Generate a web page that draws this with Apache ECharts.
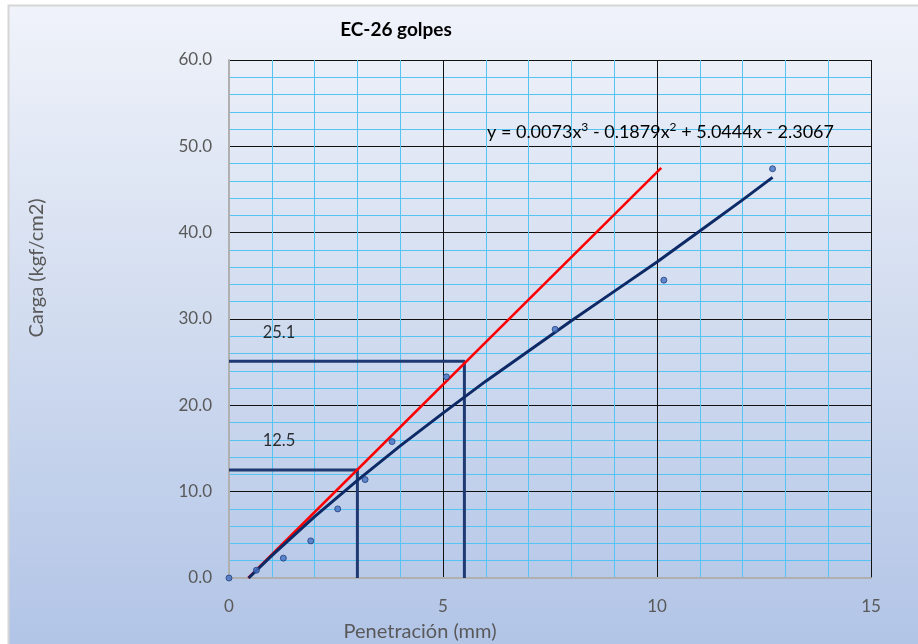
<!DOCTYPE html>
<html>
<head>
<meta charset="utf-8">
<script src="https://cdn.jsdelivr.net/npm/echarts@6/dist/echarts.min.js"></script>
<style>
  html, body { margin: 0; padding: 0; background: #fff; }
  #chart { width: 918px; height: 644px; }
</style>
</head>
<body>
<div id="chart"></div>
<script>
// puntos del ensayo (penetracion mm, carga kgf/cm2)
const penetracion = [0, 0.64, 1.27, 1.91, 2.54, 3.18, 3.81, 5.08, 7.62, 10.16, 12.7];
const carga       = [0.0, 0.9, 2.3, 4.3, 8.0, 11.4, 15.8, 23.3, 28.8, 34.5, 47.4];

// curva de tendencia
const curvaX = [0.46, 1, 2, 3, 4, 5, 6, 7, 8, 9, 10, 11, 12, 12.7];
const curvaY = [0.0, 2.6, 7.1, 11.3, 15.3, 19.1, 22.8, 26.3, 29.8, 33.2, 36.6, 40.2, 43.8, 46.4];

// recta corregida (roja)
const rectaX = [0.45, 10.1];
const rectaY = [0.0, 47.5];

// lecturas corregidas
const lecturaX = [3.0, 5.5];
const lecturaY = [12.5, 25.1];

const ecuacion = "y = 0.0073x{s|3} - 0.1879x{s|2} + 5.0444x - 2.3067";

const FONT = "Lato, 'Open Sans', sans-serif";
const navy = "#0d2a66";

function pairs(xs, ys){ return xs.map((x,i)=>[x, ys[i]]); }

const lecturaSeries = lecturaX.map((x,i)=>({
  type: "line",
  data: [[0, lecturaY[i]], [x, lecturaY[i]], [x, 0]],
  symbol: "none",
  lineStyle: { color: "#1f3a73", width: 3 },
  z: 3,
  silent: true
}));

const labelSeries = {
  type: "scatter",
  data: lecturaY.map(v=>[0, v]),
  symbolSize: 0,
  label: {
    show: true,
    formatter: p => p.value[1].toFixed(1),
    position: "inside",
    offset: [50, -29],
    fontSize: 16.5,
    fontFamily: FONT,
    color: "#000"
  },
  z: 6,
  silent: true
};

const chart = echarts.init(document.getElementById("chart"));
chart.setOption({
  backgroundColor: "#ffffff",
  animation: false,
  title: {
    text: "EC-26 golpes",
    left: 391, top: 15, textAlign: "center",
    textStyle: { fontFamily: FONT, fontSize: 19, fontWeight: "bold", color: "#000" }
  },
  grid: { left: 229, right: 47, top: 60, bottom: 66 },
  xAxis: {
    type: "value", min: 0, max: 15, interval: 5,
    axisLine: { show: true, onZero: false, lineStyle: { color: "#b0b0b0", width: 2 } },
    axisTick: { show: false },
    axisLabel: { fontFamily: FONT, fontSize: 17, color: "#595959", margin: 20 },
    splitLine: { show: true, lineStyle: { color: "#111", width: 1 } },
    minorTick: { show: false, splitNumber: 5 },
    minorSplitLine: { show: true, lineStyle: { color: "#55c4f2", width: 1 } }
  },
  yAxis: {
    type: "value", min: 0, max: 60, interval: 10,
    axisLine: { show: true, lineStyle: { color: "#b0b0b0", width: 2 } },
    axisTick: { show: false },
    axisLabel: { fontFamily: FONT, fontSize: 17, color: "#595959", margin: 17,
                 formatter: v => v.toFixed(1) },
    splitLine: { show: true, lineStyle: { color: "#111", width: 1 } },
    minorTick: { show: false, splitNumber: 5 },
    minorSplitLine: { show: true, lineStyle: { color: "#55c4f2", width: 1 } }
  },
  graphic: [
    {
      type: "rect",
      z: -10,
      shape: { x: 8.5, y: 5.5, width: 930, height: 660 },
      style: {
        fill: {
          type: "linear", x: 0, y: 0, x2: 0, y2: 1,
          colorStops: [
            { offset: 0, color: "#f0f3fa" },
            { offset: 0.5, color: "#d0dbef" },
            { offset: 1, color: "#b0c3e6" }
          ]
        },
        stroke: "#d6d6d6", lineWidth: 2
      },
      silent: true
    },
    {
      type: "text",
      left: 487, top: 121,
      style: {
        text: ecuacion,
        font: "18px " + FONT,
        fill: "#000",
        rich: {
          s: { fontSize: 12, fontFamily: FONT, padding: [0, 0, 11, 0], fill: "#000" }
        }
      },
      z: 10
    },
    {
      type: "text",
      x: 420, y: 632,
      style: {
        text: "Penetración (mm)",
        font: "20px " + FONT,
        fill: "#595959",
        align: "center", verticalAlign: "middle"
      }
    },
    {
      type: "text",
      x: 37, y: 268,
      rotation: Math.PI / 2,
      style: {
        text: "Carga (kgf/cm2)",
        font: "20px " + FONT,
        fill: "#595959",
        align: "center", verticalAlign: "middle"
      }
    }
  ],
  series: [
    ...lecturaSeries,
    {
      type: "line",
      data: pairs(rectaX, rectaY),
      symbol: "none",
      lineStyle: { color: "#ff0000", width: 2.5 },
      z: 4, silent: true
    },
    {
      type: "line",
      data: pairs(curvaX, curvaY),
      symbol: "none",
      lineStyle: { color: navy, width: 3 },
      z: 4, silent: true
    },
    {
      type: "scatter",
      data: pairs(penetracion, carga),
      symbol: "circle",
      symbolSize: 6,
      itemStyle: { color: "#4472c4", borderColor: "#203f7a", borderWidth: 1 },
      z: 5
    },
    labelSeries
  ]
});
</script>
</body>
</html>
